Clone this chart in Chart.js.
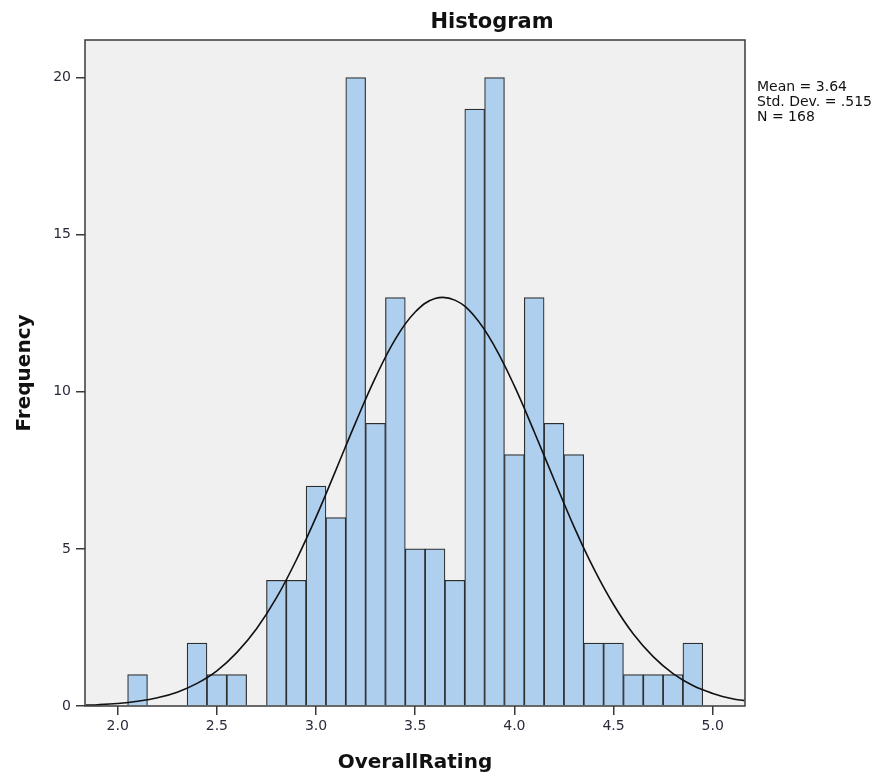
<!DOCTYPE html>
<html>
<head>
<meta charset="utf-8">
<script src="https://cdn.jsdelivr.net/npm/chart.js@4.4.1/dist/chart.umd.min.js"></script>
<style>
    body { margin: 0; background: #fff; }
    #wrap { width: 896px; height: 777px; }
</style>
</head>
<body>
<div id="wrap"><canvas id="histChart" width="896" height="777"></canvas></div>
<script>
// bin centres (width 0.1) and counts
const binCenters = [2.1, 2.4, 2.5, 2.6, 2.8, 2.9, 3.0, 3.1, 3.2, 3.3, 3.4, 3.5, 3.6,
    3.7, 3.8, 3.9, 4.0, 4.1, 4.2, 4.3, 4.4, 4.5, 4.6, 4.7, 4.8, 4.9];
const binCounts = [1, 2, 1, 1, 4, 4, 7, 6, 20, 9, 13, 5, 5,
    4, 19, 20, 8, 13, 9, 8, 2, 2, 1, 1, 1, 2];

// normal curve
const curveX = [1.84, 1.9, 2.0, 2.1, 2.2, 2.3, 2.4, 2.5, 2.6, 2.7, 2.8, 2.9, 3.0,
    3.1, 3.2, 3.3, 3.4, 3.5, 3.6, 3.7, 3.8, 3.9, 4.0, 4.1, 4.2, 4.3, 4.4,
    4.5, 4.6, 4.7, 4.8, 4.9, 5.0, 5.1, 5.16];
const curveY = [0.03, 0.04, 0.08, 0.15, 0.26, 0.44, 0.72, 1.12, 1.7, 2.46, 3.44, 4.64, 6.01,
    7.51, 9.03, 10.46, 11.68, 12.54, 12.97, 12.92, 12.4, 11.45, 10.19, 8.73, 7.21, 5.72, 4.38,
    3.23, 2.29, 1.57, 1.03, 0.65, 0.4, 0.23, 0.17];

const statsLines = ["Mean = 3.64", "Std. Dev. = .515", "N = 168"];
const chartTitle = "Histogram";

const fontFace = "'DejaVu Sans', sans-serif";

// grey plot background, frame, title and stats text
const spssFrame = {
    id: "spssFrame",
    beforeDraw(chart) {
        const { ctx, chartArea: a } = chart;
        ctx.save();
        ctx.fillStyle = "#f0f0f0";
        ctx.fillRect(a.left, a.top, a.right - a.left, a.bottom - a.top);
        ctx.restore();
    },
    afterDraw(chart) {
        const { ctx, chartArea: a } = chart;
        ctx.save();
        ctx.strokeStyle = "#3a3a3a";
        ctx.lineWidth = 1.5;
        ctx.strokeRect(a.left, a.top, a.right - a.left, a.bottom - a.top);

        ctx.fillStyle = "#111";
        ctx.font = "bold 21px " + fontFace;
        ctx.textAlign = "center";
        ctx.textBaseline = "middle";
        ctx.fillText(chartTitle, 492, 23);

        ctx.font = "14px " + fontFace;
        ctx.textAlign = "left";
        statsLines.forEach((line, i) => {
            ctx.fillText(line, 757, 87 + i * 15);
        });
        ctx.restore();
    }
};

const ctx = document.getElementById("histChart").getContext("2d");

new Chart(ctx, {
    type: "bar",
    data: {
        datasets: [
            {
                type: "line",
                data: curveX.map((x, i) => ({ x: x, y: curveY[i] })),
                borderColor: "#111",
                borderWidth: 1.6,
                pointRadius: 0,
                tension: 0.4,
                fill: false,
                order: 0
            },
            {
                type: "bar",
                data: binCenters.map((x, i) => ({ x: x, y: binCounts[i] })),
                backgroundColor: "#aecfee",
                borderColor: "#2e2e2e",
                borderWidth: 1.2,
                barPercentage: 1,
                categoryPercentage: 1,
                order: 1
            }
        ]
    },
    options: {
        responsive: false,
        animation: false,
        layout: { padding: { top: 40, right: 151, left: 0, bottom: 0 } },
        plugins: {
            legend: { display: false },
            tooltip: { enabled: false }
        },
        scales: {
            x: {
                type: "linear",
                offset: false,
                min: 1.835,
                max: 5.163,
                afterFit: (scale) => { scale.height = 71; },
                ticks: {
                    stepSize: 0.5,
                    includeBounds: false,
                    padding: 3,
                    color: "#2a2a3a",
                    font: { family: fontFace, size: 14 },
                    callback: (v) => v.toFixed(1)
                },
                grid: {
                    offset: false,
                    drawOnChartArea: false,
                    drawTicks: true,
                    tickLength: 9,
                    color: "#3a3a3a",
                    lineWidth: 1.5
                },
                border: { display: false },
                title: {
                    display: true,
                    text: "OverallRating",
                    color: "#111",
                    font: { family: fontFace, size: 20, weight: "bold" },
                    padding: { top: 0, bottom: 2 }
                }
            },
            y: {
                min: 0,
                max: 21.2,
                afterFit: (scale) => { scale.width = 85; },
                ticks: {
                    stepSize: 5,
                    includeBounds: false,
                    padding: 5,
                    color: "#2a2a3a",
                    font: { family: fontFace, size: 14 }
                },
                grid: {
                    drawOnChartArea: false,
                    drawTicks: true,
                    tickLength: 9,
                    color: "#3a3a3a",
                    lineWidth: 1.5
                },
                border: { display: false },
                title: {
                    display: true,
                    text: "Frequency",
                    color: "#111",
                    font: { family: fontFace, size: 20, weight: "bold" },
                    padding: { top: 13, bottom: 0 }
                }
            }
        }
    },
    plugins: [spssFrame]
});
</script>
</body>
</html>
